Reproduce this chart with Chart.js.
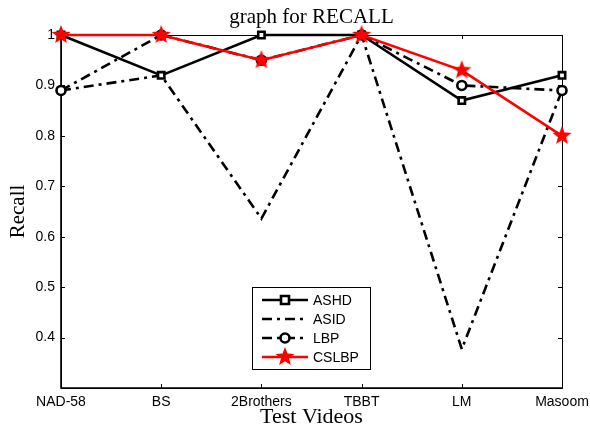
<!DOCTYPE html>
<html>
<head>
<meta charset="utf-8">
<script src="https://cdn.jsdelivr.net/npm/chart.js@4.4.1/dist/chart.umd.min.js"></script>
<style>
  html, body { margin: 0; padding: 0; background: #fff; }
  #wrap { width: 590px; height: 429px; }
</style>
</head>
<body>
<div id="wrap"><canvas id="recallChart" width="590" height="429"></canvas></div>
<script>
// values
var videos = ['NAD-58', 'BS', '2Brothers', 'TBBT', 'LM', 'Masoom'];
var ashd  = [1.00, 0.92, 1.00, 1.00, 0.87, 0.92];
var asid  = [0.89, 0.92, 0.636, 1.00, 0.377, 0.89];
var lbp   = [0.89, 1.00, 0.95, 1.00, 0.90, 0.89];
var cslbp = [1.00, 1.00, 0.95, 1.00, 0.93, 0.80];
var yTicks = [0.3, 0.4, 0.5, 0.6, 0.7, 0.8, 0.9, 1];

// filled red star marker (Chart.js 'star' is only an asterisk)
function makeStar(r) {
    var c = document.createElement('canvas');
    var s = Math.ceil(r * 2 + 2);
    c.width = s; c.height = s;
    var g = c.getContext('2d');
    g.beginPath();
    for (var i = 0; i < 10; i++) {
        var rad = (i % 2 === 0) ? r : r * 0.42;
        var a = -Math.PI / 2 + i * Math.PI / 5;
        var px = s / 2 + rad * Math.cos(a), py = s / 2 + rad * Math.sin(a);
        if (i === 0) g.moveTo(px, py); else g.lineTo(px, py);
    }
    g.closePath();
    g.fillStyle = '#ff0000';
    g.fill();
    return c;
}
var star = makeStar(10);
var dashDot = [10, 5, 3, 5];

var series = [
    { label: 'ASHD', data: ashd, order: 1, borderColor: '#000', borderWidth: 2.6, borderDash: [],
      pointStyle: 'rect', pointRadius: 4.5, pointBorderWidth: 2.6, pointBackgroundColor: '#fff', pointBorderColor: '#000' },
    { label: 'ASID', data: asid, order: 3, borderColor: '#000', borderWidth: 2.6, borderDash: dashDot,
      pointStyle: false, pointRadius: 0 },
    { label: 'LBP', data: lbp, order: 2, borderColor: '#000', borderWidth: 2.6, borderDash: dashDot,
      pointStyle: 'circle', pointRadius: 4.5, pointBorderWidth: 2.6, pointBackgroundColor: '#fff', pointBorderColor: '#000' },
    { label: 'CSLBP', data: cslbp, order: 0, borderColor: '#ff0000', borderWidth: 2.6, borderDash: [],
      pointStyle: star, pointRadius: 10, pointBackgroundColor: '#ff0000', pointBorderColor: '#ff0000' }
];
series.forEach(function (s) { s.fill = false; s.tension = 0; s.clip = false; s.pointHoverRadius = s.pointRadius; });

// box, inner ticks, title, axis titles and legend drawn MATLAB style
var matlabDecor = {
    id: 'matlabDecor',
    beforeDatasetsDraw: function (chart) {
        var ctx = chart.ctx, a = chart.chartArea;
        var xs = chart.scales.x, ys = chart.scales.y;
        ctx.save();
        ctx.strokeStyle = '#000';
        ctx.lineWidth = 1;
        ctx.strokeRect(a.left + 0.5, a.top + 0.5, a.right - a.left, a.bottom - a.top);
        ctx.lineWidth = 1.6;
        ctx.beginPath();
        ctx.moveTo(a.left, a.top); ctx.lineTo(a.left, a.bottom); ctx.lineTo(a.right, a.bottom);
        ctx.stroke();
        ctx.lineWidth = 1;
        ctx.beginPath();
        yTicks.forEach(function (v) {
            var y = Math.round(ys.getPixelForValue(v)) + 0.5;
            ctx.moveTo(a.left, y); ctx.lineTo(a.left + 4, y);
            ctx.moveTo(a.right, y); ctx.lineTo(a.right - 4, y);
        });
        videos.forEach(function (v, i) {
            var x = Math.round(xs.getPixelForValue(i)) + 0.5;
            ctx.moveTo(x, a.bottom); ctx.lineTo(x, a.bottom - 4);
            ctx.moveTo(x, a.top); ctx.lineTo(x, a.top + 4);
        });
        ctx.stroke();
        ctx.restore();
    },
    afterDatasetsDraw: function (chart) {
        var ctx = chart.ctx, a = chart.chartArea;
        ctx.save();
        ctx.fillStyle = '#000';
        ctx.textAlign = 'center';
        ctx.textBaseline = 'middle';
        ctx.font = '21px "Liberation Serif", "Times New Roman", serif';
        ctx.fillText('graph for RECALL', (a.left + a.right) / 2, 17);
        ctx.font = '22px "Liberation Serif", "Times New Roman", serif';
        ctx.fillText('Test Videos', (a.left + a.right) / 2, 417);
        ctx.save();
        ctx.translate(18, (a.top + a.bottom) / 2);
        ctx.rotate(-Math.PI / 2);
        ctx.font = '21px "Liberation Serif", "Times New Roman", serif';
        ctx.fillText('Recall', 0, 0);
        ctx.restore();

        // legend
        var lx = 252, ly = 287, lw = 118, lh = 82;
        ctx.fillStyle = '#fff';
        ctx.fillRect(lx, ly, lw, lh);
        ctx.strokeStyle = '#000';
        ctx.lineWidth = 1;
        ctx.strokeRect(lx + 0.5, ly + 0.5, lw, lh);
        var rows = [300, 319, 338, 357];
        ctx.font = '14px "Liberation Sans", Arial, sans-serif';
        ctx.textAlign = 'left';
        series.forEach(function (s, i) {
            var y = rows[i];
            ctx.strokeStyle = s.borderColor;
            ctx.lineWidth = s.borderWidth;
            ctx.setLineDash(s.borderDash);
            ctx.beginPath();
            ctx.moveTo(262, y); ctx.lineTo(308, y);
            ctx.stroke();
            ctx.setLineDash([]);
            if (s.pointStyle === star) {
                ctx.drawImage(star, 285 - star.width / 2, y - star.height / 2);
            } else if (s.pointStyle) {
                ctx.fillStyle = '#fff';
                ctx.lineWidth = 2.6;
                ctx.beginPath();
                if (s.pointStyle === 'rect') ctx.rect(281, y - 4, 8, 8);
                else ctx.arc(285, y, 4.5, 0, Math.PI * 2);
                ctx.fill();
                ctx.stroke();
            }
            ctx.fillStyle = '#000';
            ctx.fillText(s.label, 313, y + 1);
        });
        ctx.restore();
    }
};

new Chart(document.getElementById('recallChart').getContext('2d'), {
    type: 'line',
    data: { labels: videos, datasets: series },
    options: {
        responsive: false,
        animation: false,
        events: [],
        layout: { padding: { top: 35, right: 28, left: 0, bottom: 0 } },
        plugins: { legend: { display: false }, title: { display: false }, tooltip: { enabled: false } },
        scales: {
            x: {
                offset: false,
                grid: { display: false, drawTicks: false },
                border: { display: false },
                ticks: { autoSkip: false, maxRotation: 0, padding: 6, color: '#000',
                         font: { family: '"Liberation Sans", Arial, sans-serif', size: 14 } },
                afterFit: function (scale) { scale.height = 41; scale.paddingLeft = 0; scale.paddingRight = 0; }
            },
            y: {
                min: 0.3,
                max: 1,
                grid: { display: false, drawTicks: false },
                border: { display: false },
                afterBuildTicks: function (scale) {
                    scale.ticks = yTicks.map(function (v) { return { value: v }; });
                },
                ticks: {
                    color: '#000', padding: 6,
                    font: { family: '"Liberation Sans", Arial, sans-serif', size: 14 },
                    callback: function (v) {
                        var r = Math.round(v * 10) / 10;
                        return r === 0.3 ? '' : String(r);
                    }
                },
                afterFit: function (scale) { scale.width = 61; scale.paddingTop = 0; scale.paddingBottom = 0; }
            }
        }
    },
    plugins: [matlabDecor]
});
</script>
</body>
</html>
